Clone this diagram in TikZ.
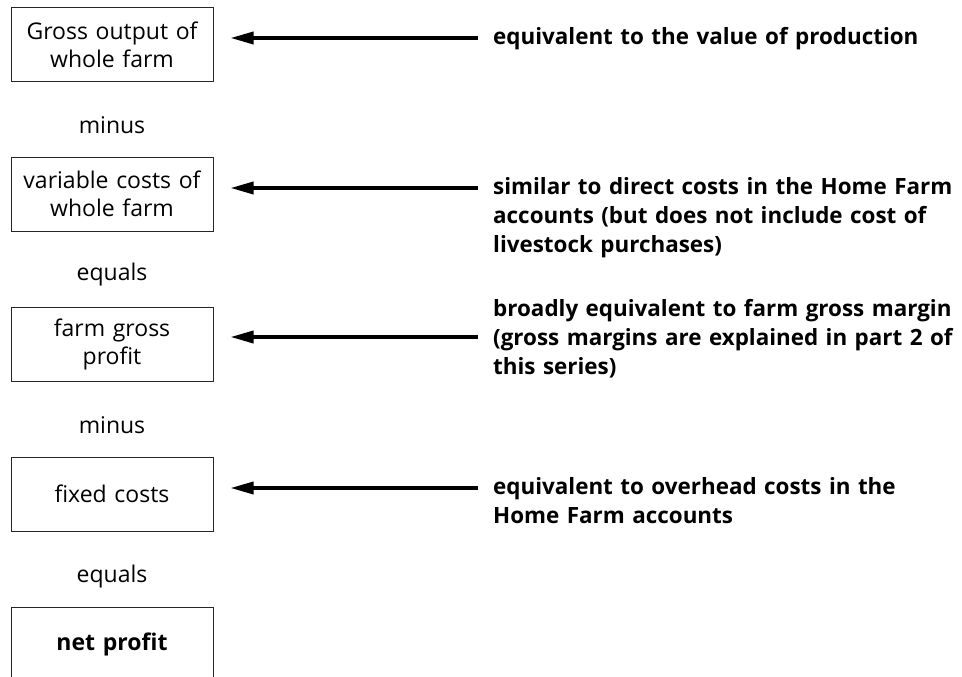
\documentclass[tikz,border=0pt]{standalone}
\usepackage{fontspec}
\setmainfont{Open Sans}
\usetikzlibrary{arrows.meta}
\begin{document}
\begin{tikzpicture}[x=1pt,y=-1pt,
  txt/.style={font=\fontsize{23}{28.5}\selectfont},
  box/.style={txt, draw=black!85, line width=1pt, minimum width=202pt, minimum height=74pt,
    inner sep=0pt, text width=200pt, align=center},
  op/.style={txt, inner sep=0pt},
  note/.style={anchor=base west, inner sep=0pt, text width=470pt, align=left,
    font=\bfseries\fontsize{22.4}{29}\selectfont},
  arr/.style={line width=3.5pt, -{Triangle[length=23pt,width=12pt]}, shorten >=17pt}]
\useasboundingbox (0,0) rectangle (962,677);
\clip (0,0) rectangle (962,677);
% boxes
\node[box] (b1) at (112,45) {Gross output of\\whole farm};
\node[box] (b2) at (112,194) {variable costs of\\whole farm};
\node[box] (b3) at (112,344.5) {farm gross\\profit};
\node[box] (b4) at (112,494) {fixed costs};
\node[box] (b5) at (112,644) {\bfseries net profit};
% operators
\node[op] (o1) at (112,125) {minus};
\node[op] (o2) at (112,275) {equals};
\node[op] (o3) at (112,425) {minus};
\node[op] (o4) at (112,577) {equals};
% notes
\node[note] (n1) at (493,45) {equivalent to the value of production};
\node[note] (n2) at (493,194) {similar to direct costs in the Home Farm\\accounts (but does not include cost of\\livestock purchases)};
\node[note] (n3) at (493,316) {broadly equivalent to farm gross margin\\(gross margins are explained in part 2 of\\this series)};
\node[note] (n4) at (493,494) {equivalent to overhead costs in the\\Home Farm accounts};
% arrows
\coordinate (s1) at (478,38);
\coordinate (s2) at (478,188);
\coordinate (s3) at (478,337);
\coordinate (s4) at (478,488);
\draw[arr] (s1) -- (s1 -| b1.east);
\draw[arr] (s2) -- (s2 -| b2.east);
\draw[arr] (s3) -- (s3 -| b3.east);
\draw[arr] (s4) -- (s4 -| b4.east);
\end{tikzpicture}
\end{document}
